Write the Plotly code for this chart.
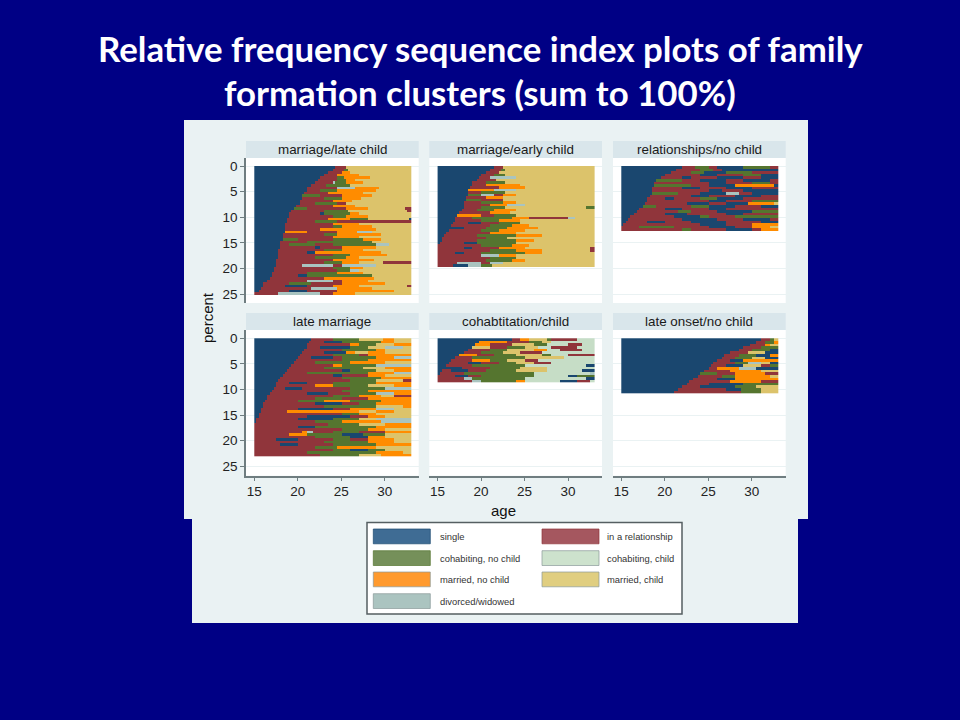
import plotly.graph_objects as go

# ---------- data: each row is a sequence "state + age at which that state ends" ----------
states = ["S", "R", "C", "B", "M", "K", "D"]
state_names = ["single", "in a relationship", "cohabiting, no child", "cohabiting, child",
               "married, no child", "married, child", "divorced/widowed"]
state_colors = ["#1A476F", "#90353B", "#55752F", "#C6DDC6", "#FF8C00", "#DCC36B", "#A9C4C0"]
legend_colors = ["#3F6C94", "#A5575F", "#75905A", "#CDE2CD", "#FF9A2E", "#E0CE80", "#ABC4C0"]
panel_titles = ["marriage/late child", "marriage/early child", "relationships/no child",
                "late marriage", "cohabtitation/child", "late onset/no child"]
panel_extents = [25.2, 19.8, 12.6, 23.0, 8.5, 10.7]
tick_ages = [15, 20, 25, 30]
tick_percents = [0, 5, 10, 15, 20, 25]

marriage_late = [
 "S24.2 R25.6 K33", "S24 R25.2 C25.7 K33", "S23.6 R25 M26 K33", "S23 R24.6 M27 K33",
 "S22.6 R24.6 C25.2 M28.2 K33", "S22.2 R24.4 C25.4 M26.6 K33", "S21.9 R24 D24.2 C25.6 M27.5 K33", "S21.5 R23.3 C26 K33",
 "S21.1 R24.5 D26.6 M29.3 K33", "S20.9 R22.5 C24.5 M26 M29 K33", "S20.7 R23.5 M25 M27.5 K33", "S20.5 C22.5 R25 M28.5 K33",
 "S20.4 R23 C25 M27.2 K33", "S20.3 R24 M26.2 K33", "S20.2 R22 C24.5 R25.5 K33", "S19.8 R24 M26.5 K33",
 "S19.4 C21 R25.5 M28 K32.3 R33", "S19.2 R23 C25.8 K32.4 R33", "S19.1 R22.5 S23 C26 M27 K33", "S19 R24 C25.5 M28 K33",
 "S18.8 R23.5 M26 C28 K32.8 S33", "S18.7 R22 C24.5 R28.3 R33", "S18.6 R24 M25.5 M27 K33", "S18.5 R24 C25 M28.5 K33",
 "S18.5 R22.5 M25 M29 K33", "S18.4 M21 R24.5 M26.7 D28.5 K33", "S18.3 R23 C24.6 M29.5 K33", "S18.3 R24 M27 K33",
 "S18.2 C20 R24 C27.5 M29.5 K33", "S18.1 R21 C24 C28.5 K33", "S18 R19 C22 R24 C29 D30.5 K33", "S17.9 R22 S22.5 R25 M29 K33",
 "S17.8 R23 C25 M27.5 K33", "S17.8 R21 S22 M25.5 M29.5 K33", "S17.7 R24 C26 M30.3 K33", "S17.7 R22 C25.5 M27 K33",
 "S17.6 R24 M26.5 M28.7 K33", "S17.5 R23 C25 M27 K29.8 R33", "S17.4 R20.5 D24 R25 D29 K33", "S17.3 R24 C26 M27.5 K33",
 "S17.2 R22.5 R24.5 C26 D27 K33", "S17.1 R21 C24.5 M27.5 K33", "S16.9 R20 S21 C25.5 C28.5 K33", "S16.7 R23 M26.3 M28.7 K33",
 "S16.4 R21 D24 R25 M28 K33", "S16.1 R19 C21.5 R25 M30 K33", "S15.9 R18.5 S21 R24 M27 K32.6 R33", "S15.7 R21.5 D24.5 M28.5 K33",
 "S15.4 R19 S21 R24.5 M31 K33", "S15.1 R17.8 D22.5 R24 M26.5 K33",
]

marriage_early = [
 "S21.4 R22.4 K33", "S21 R22.3 C22.8 K33", "S20.4 R22 K33", "S20 R21.5 C22.8 K33",
 "S19.7 R21 D24 K33", "S19.4 R21.8 K33", "S19.1 R20.5 C22.8 K33", "S18.9 R20.5 M24.5 K33",
 "S18.7 R22 M25 K33", "S18.6 M21.5 D24 K33", "S18.5 R20 C22.7 K33", "S18.4 C20 D21.5 R22.5 M24 K33",
 "S18.3 R20.5 M22.5 K33", "S18.2 C20 R22.5 K33", "S18.1 R20 C22.5 M24 K33", "S18 R21 M23 D25 K33",
 "S17.9 R20 C22.8 K32 C33", "S17.7 R19.5 C21.5 M24 K33", "S17.5 R21 M23.3 K33", "S17.3 M20 R21.5 C24 K33",
 "S17.1 R19 C23.5 M25.5 R26.5 K26.6 R30 D30.7 K33", "S17 R20 C22 M24.5 K33", "S16.8 R18.5 S20 R22 C24.5 K33", "S16.6 R21 C23.5 M25.5 K33",
 "S16.4 S18 R20.5 C23 M26.5 K33", "S16.2 R20 C22 M25 K33", "S16 R21 M24 K33", "S15.8 R19.5 C24 M27 K33",
 "S15.6 R20.5 C23 K33", "S15.4 R19.5 C24 M26 K33", "S15.2 R18 S19.5 C24 K33", "R20 C23.5 M25.5 K33",
 "R18 S19 R22 M25 K32.5 R33", "R21 C24 M27 K32.5 R33", "R17 S18 R20 C25 M27 K33", "R20 D22 M24 K33",
 "R21 C24 K33", "R20.5 C23.5 M25 K33", "R17.2 D20 R21 D22.5 K33", "R16.8 S18.5 D20 C21.2 K33",
]

relationships = [
 "S21.9 R23.5 C25 R26 S29 C32 R33", "S21.2 R24 C25.5 R26.5 S33", "S20.7 R23 C24.5 S27 C30 R33", "S20 R24 S26 R29 C31 S33",
 "S19.4 R22 S23 R26 S29 R31 S33", "S19 C22 R24 S27 R29 S32 R33", "S18.8 R25 S27 R30 C32 R33", "S18.7 C23 R25 S28 M32.5 S33",
 "S18.6 R22 S24 R27 S30 R33", "S18.5 R25 S26.5 R29 S33", "S18.4 C21.5 R24 S27 D28.5 R30 S33", "S18.3 R23 S25 R28 S31 R33",
 "S18.1 R20 S21 R24 C26 S29 R33", "S17.9 R25 S27 R30 C33", "S17.7 R22.5 S25 R27 S29.5 M32.5 K33", "S17.4 C19 R23 C25 S28 R31 S33",
 "S17.1 R20 S22 R25 S27 R33", "S16.8 R21.5 C23 R26 S30 C33", "S16.5 R20 S22.5 R27 S29 R33", "S16.1 R21 S24 C25 R28 C33",
 "S15.8 R22 S26 R29 S32 R33", "S15.5 R18 S20 R23 S27 R31 S33", "S15.3 R24 S27 R30 M33", "R17 C21 R25 S28 R30 M32 K33",
 "R22 C23 R27 S30 R31 M33",
]

late_marriage = [
 "S21.4 R24 C27 K29.7 M31 K33", "S21.3 R23 S25 C29.5 M31 K33", "S21.1 R26 M27 C29 K31 M33", "S20.9 R22.5 S26 C28 K30 D32 K33",
 "S20.7 R25 C29 M30 K33", "S20.4 R23 S25.5 M26.5 K28 M30 K33", "S20.2 R24 C27 R28 M33", "S20 R21.5 S24 R25 C29 M31 D33",
 "S19.8 R25 C28 M33", "S19.5 R22 C26 M30 K33", "S19.2 R24 M25 C29 D33", "S19 R23 C27.5 K30 M33",
 "S18.7 R25 S26 C29 K31 M33", "S18.4 R21 C26 C28 M31 D33", "S18.2 R24 S25 R28 M30 K33", "S18 R23 R25 C29.5 M33",
 "S17.8 R26 C29 K32 R33", "S17.6 R19 S21 R24 C29 M33", "S17.4 R22 M24 C28 K31 M33", "S17.2 R18.5 S20.5 R26 C30 D33",
 "S17 R25 C28 M33", "S16.8 R21 S23.5 R26 C29 D31 M33", "S16.6 R24 C27 M29.5 K31 R33", "S16.4 R22 C25 R28 M33",
 "S16.2 R20 C23 M26 C29.5 M33", "S16 R22 S25 R27 C29 M33", "S15.9 R23 C26 C29 K32 M33", "S15.8 R20 S24 R26 M29 D31 K33",
 "S15.7 R18.7 M27 K29 M31 K33", "S15.6 R25 C27 M29 K33", "S15.4 R21 S26 R28 M30 K33", "S15.3 R20 S24 C27 K29 D31.5 D33",
 "S15.2 R22 C25 M29.5 D33", "S15.1 R23.5 C27 K30 M33", "S15.05 R20 S22 C26 C29 M33", "R25 C28 M30 K33",
 "R20.5 M21 D21.7 R24 C27 R30 M33", "R19 M21 C25 S27.5 C30 K33", "R22 C26 S28 M30 K33", "R17.5 S20 R24 C26 R28 M31 K33",
 "R23 C28 M31 K33", "R18 S20 R24 C29 M33", "R22 C24.5 M29 K33", "R24 C26 S28 C30 K33",
 "R21 C25 C29 M32 K33", "R22.5 C27 K29.5 M33",
]

cohab_child = [
 "S23.6 R24.5 M25.5 K27.5 C28 R31 B33", "S19.8 M23 R25.5 C27 K28 B33", "S19.3 M21 R23.5 K26 C27.5 B30 R31.5 B33",
 "S18.9 K21 R23 C25 K26.5 B28 R31 B33", "S18.5 R21 C23 K26 M27.5 B29 R31.5 B33", "S18 R20 C22.5 K24.5 R27 B33",
 "S17.6 M19.5 R21.5 C24 K27 C28 B30 R33", "S17.1 R19 C22 C25 K29.5 B33", "S16.6 R19 M21 C23 K25 R26.5 B33",
 "S16.3 R18.5 S20 R22 C24 K26 R28 B33", "S16 R19 C22 C25 B32 S33", "S15.7 S17.8 R21 C24.5 K27.5 B33",
 "S15.4 R16.5 S18.5 R20.5 C24 K27.5 B31.5 S33", "S15.2 R18 C21 C26 B32.5 D33", "R17 S18.5 R20 C26 B30 S31 C33",
 "R18 D19 C22 C25 B32 S33", "R19 D20 C24 M25 B29 S31 R32.5 B33",
]

late_onset = [
 "S31 R32 C32.5 K33", "S30.4 R31.5 C32.5 M33", "S29.8 R31.5 M32 K33", "S29 R31 C33", "S28.4 R30 C32 S33",
 "S27.5 R29.5 K31.5 S33", "S26.8 R28.5 C30.5 S32 M33", "S26.4 R28 C30 K31.5 S33", "S26 R27.5 S29 M31 M33",
 "S25.6 R28 C29.5 D31 K32 S33", "S25.3 R27 S29 K31 R32 C33", "S24.9 R26 M28.5 D30.5 S33", "S24.5 R27.5 M31 K33",
 "S24.1 C26 R28 M31.5 R33", "S23.7 R26.5 C28 M32 K33", "S23.3 R26 S28 M30 M33", "S22.8 R27.5 M31 R33",
 "S22.4 R25 S29 C31.5 C33", "S22 R24 S28 C30.5 K33", "S21.5 R27 S28.7 C31 K33", "S21.1 R28.8 C31 K33",
]

panels = [marriage_late, marriage_early, relationships, late_marriage, cohab_child, late_onset]

# ---------- page geometry (pixels in the 960x720 photograph) ----------
W, H = 960, 720
col_left = [246.0, 429.3, 613.0]
col_w = 172.7
rows_px = [(158.0, 303.0, 166.0), (330.0, 475.7, 338.3)]
strip_h = 17.0
px_per_age = 156.5 / 18
px_per_pct = 5.12
age_left_pad = 8.3

def xf(p): return p / W
def yf(p): return 1 - p / H

def expand(row_list, ages):
    z = []
    for row in row_list:
        segs = [(s[0], float(s[1:])) for s in row.split()]
        line = []
        for a in ages:
            for st, end in segs:
                if a < end:
                    line.append(states.index(st))
                    break
            else:
                line.append(states.index(segs[-1][0]))
        z.append(line)
    return z

age_cells = [15 + 0.125 + 0.25 * i for i in range(72)]
n_st = len(states)

fig = go.Figure()
shapes, annos = [], []

def rect(x0, y0, x1, y1, fill, line=None, lw=0):
    shapes.append(dict(type="rect", xref="paper", yref="paper", x0=xf(x0), x1=xf(x1), y0=yf(y1), y1=yf(y0),
                       fillcolor=fill, line=dict(color=line or fill, width=lw), layer="below"))

def label(text, x, y, size, color, family="Liberation Sans", xanchor="center", weight=None, angle=0):
    f = dict(family=family, size=size, color=color)
    if weight:
        f["weight"] = weight
    annos.append(dict(text=text, x=xf(x), y=yf(y), xref="paper", yref="paper", showarrow=False, xanchor=xanchor,
                      yanchor="middle", textangle=angle, font=f))

# photo backgrounds
rect(184, 120, 808, 519, "#EAF2F3")
rect(192, 519, 798, 623, "#EAF2F3")

for i, rows in enumerate(panels):
    r, c = divmod(i, 3)
    top, bot, y0px = rows_px[r]
    left = col_left[c]
    rect(left, top - strip_h, left + col_w, top, "#D9E6EB")
    rect(left, top, left + col_w, bot, "#FFFFFF")
    label(panel_titles[i], left + col_w / 2, top - strip_h / 2, 13.4, "#1a1a1a")
    sfx = "" if i == 0 else str(i + 1)
    h = panel_extents[i] / len(rows)
    ys = [h * (k + 0.5) for k in range(len(rows))]
    fig.add_trace(go.Heatmap(z=expand(rows, age_cells), x=age_cells, y=ys, zmin=0, zmax=n_st - 1, showscale=False,
                             colorscale=[[k / (n_st - 1), state_colors[k]] for k in range(n_st)],
                             hoverinfo="skip", xaxis="x" + sfx, yaxis="y" + sfx))
    xr = [15 - age_left_pad / px_per_age, 15 + (col_w - age_left_pad) / px_per_age]
    yr = [(bot - y0px) / px_per_pct, (top - y0px) / px_per_pct]
    fig.layout["xaxis" + sfx] = dict(domain=[xf(left), xf(left + col_w)], range=xr, anchor="y" + sfx, showgrid=False,
        zeroline=False, tickvals=tick_ages if r == 1 else [], ticks="outside" if r == 1 else "", ticklen=4, tickcolor="#6f7d80",
        showline=r == 1, linecolor="#6f7d80", linewidth=1.5, showticklabels=r == 1, ticklabelstandoff=-2,
        tickfont=dict(family="Liberation Sans", size=13.5, color="#222"))
    fig.layout["yaxis" + sfx] = dict(domain=[yf(bot), yf(top)], range=yr, anchor="x" + sfx, showgrid=True, gridcolor="#EAF2F3",
        gridwidth=1, zeroline=False, tickvals=tick_percents, ticks="outside" if c == 0 else "", ticklen=4, tickcolor="#6f7d80",
        showline=c == 0, linecolor="#6f7d80", linewidth=1.5, showticklabels=c == 0,
        tickfont=dict(family="Liberation Sans", size=13.5, color="#222"))

# axis titles
label("percent", 207, 318, 15, "#111", angle=-90)
label("age", 503, 510, 15, "#111")

# legend
rect(367, 522.5, 682, 614, "#FFFFFF", "#555F62", 1.5)
leg_y = [529, 550.7, 572, 593.7]
for n in range(len(states)):
    rr, cc = divmod(n, 2)
    sx = [373.3, 542][cc]
    rect(sx, leg_y[rr], sx + 57, leg_y[rr] + 14.8, legend_colors[n], "#8a9a9a" if n > 2 else state_colors[n], 0.7)
    label(state_names[n], [437.5, 605][cc], leg_y[rr] + 7.3, 9.4, "#333", xanchor="left")

# slide title
label("Relative frequency sequence index plots of family", 480.5, 49, 34.8, "#FFFFFF", "Lato", weight="bold")
label("formation clusters (sum to 100%)", 480, 93, 34.8, "#FFFFFF", "Lato", weight="bold")

fig.update_layout(width=W, height=H, margin=dict(l=0, r=0, t=0, b=0), paper_bgcolor="#000085",
                  plot_bgcolor="rgba(0,0,0,0)", showlegend=False, shapes=shapes, annotations=annos)
fig.write_html("out.html", config=dict(displayModeBar=False),
               post_script="document.body.style.margin='0';document.documentElement.style.overflow='hidden';")
